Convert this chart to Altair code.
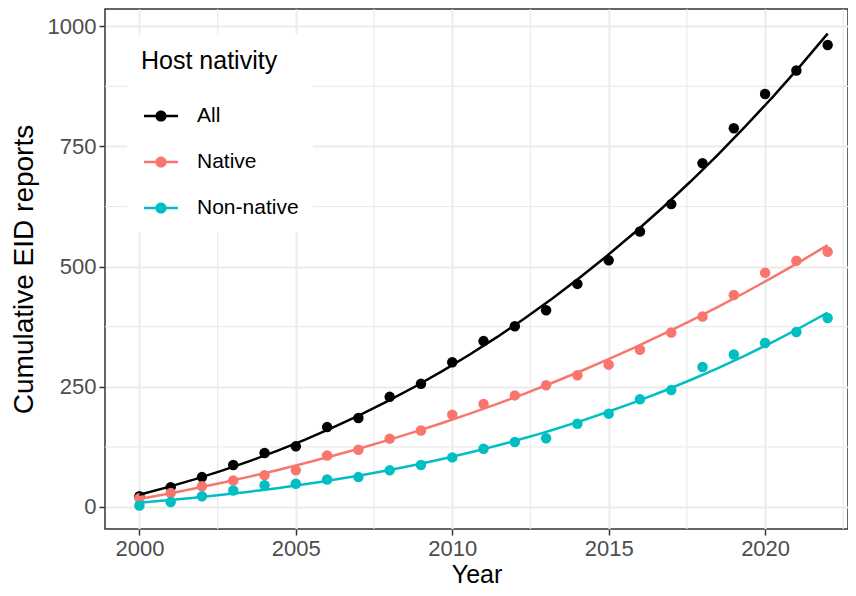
import altair as alt
import pandas as pd

years = list(range(2000, 2023))
all_vals = [22, 41, 62, 87, 112, 126, 166, 185, 229, 256, 301, 345, 376, 409, 464, 513, 573, 630, 715, 788, 859, 908, 961]
native_vals = [18, 29, 43, 55, 66, 76, 107, 119, 142, 159, 192, 214, 232, 253, 274, 296, 327, 363, 396, 441, 487, 512, 531]
nonnative_vals = [3, 10, 22, 34, 45, 48, 57, 62, 76, 87, 103, 121, 135, 143, 173, 194, 224, 243, 291, 317, 341, 364, 393]
series_names = ["All", "Native", "Non-native"]
series_colors = ["#000000", "#F8766D", "#00BFC4"]
x_major = [2000, 2005, 2010, 2015, 2020]
x_minor = [2002.5, 2007.5, 2012.5, 2017.5, 2022.5]
y_major = [0, 250, 500, 750, 1000]
y_minor = [125, 375, 625, 875]

rows = []
for name, vals in zip(series_names, [all_vals, native_vals, nonnative_vals]):
    for yr, v in zip(years, vals):
        rows.append({"year": yr, "value": v, "series": name})
df = pd.DataFrame(rows)

FONT = "Liberation Sans"
xs = alt.Scale(domain=[1998.9, 2022.65], nice=False, zero=False)
ys = alt.Scale(domain=[-46, 1036], nice=False, zero=False)
cs = alt.Scale(domain=series_names, range=series_colors)

x_axis = alt.Axis(values=x_major, format="d", title="Year", grid=True)
y_axis = alt.Axis(values=y_major, format="d", title="Cumulative EID reports", grid=True)

# legend glyph: a thin bar (the line) plus a dot, filled with the series colour
glyph = ("M-1,-0.08L1,-0.08L1,0.08L-1,0.08Z"
         "M-0.33,0A0.33,0.33,0,1,1,0.33,0A0.33,0.33,0,1,1,-0.33,0Z")

legend = alt.Legend(
    title="Host nativity",
    orient="none",
    legendX=22,
    legendY=26,
    fillColor="white",
    padding=14,
    titleFontSize=25,
    titleFont=FONT,
    titleFontWeight="normal",
    titleColor="black",
    titlePadding=25,
    labelFontSize=21,
    labelFont=FONT,
    labelColor="black",
    labelOffset=19,
    symbolType=glyph,
    symbolSize=1156,
    symbolStrokeWidth=0,
    symbolOpacity=1,
    symbolOffset=3,
)

minor_x = alt.Chart(pd.DataFrame({"v": x_minor})).mark_rule(color="#EBEBEB", strokeWidth=1.2).encode(
    x=alt.X("v:Q", scale=xs, axis=x_axis)
)
minor_y = alt.Chart(pd.DataFrame({"v": y_minor})).mark_rule(color="#EBEBEB", strokeWidth=1.2).encode(
    y=alt.Y("v:Q", scale=ys, axis=y_axis)
)

points = alt.Chart(df).mark_point(filled=True, size=110, opacity=1).encode(
    x=alt.X("year:Q", scale=xs, axis=x_axis),
    y=alt.Y("value:Q", scale=ys, axis=y_axis),
    color=alt.Color("series:N", scale=cs, legend=legend),
)

lines = alt.Chart(df).transform_calculate(
    t="datum.year - 2000"
).transform_regression(
    "t", "value", groupby=["series"], method="poly", order=3, extent=[0, 22]
).transform_calculate(
    year="datum.t + 2000"
).mark_line(strokeWidth=2.5).encode(
    x=alt.X("year:Q", scale=xs, axis=x_axis),
    y=alt.Y("value:Q", scale=ys, axis=y_axis),
    color=alt.Color("series:N", scale=cs, legend=None),
)

chart = alt.layer(minor_x, minor_y, points, lines).properties(
    width=743,
    height=520,
    autosize=alt.AutoSizeParams(type="none"),
    padding={"left": 97, "top": 1, "right": 0, "bottom": 59},
).configure_view(
    stroke="#333333", strokeWidth=1.5
).configure_axis(
    domain=False,
    gridColor="#EBEBEB",
    gridWidth=2,
    tickColor="#333333",
    tickWidth=1.5,
    tickSize=6,
    labelColor="#4D4D4D",
    labelFont=FONT,
    labelFontSize=22,
    labelPadding=3,
    titleFont=FONT,
    titleFontWeight="normal",
    titleColor="black",
).configure_axisX(
    titleFontSize=25,
    titlePadding=3,
).configure_axisY(
    titleFontSize=28,
    titlePadding=9,
).configure_legend(
    rowPadding=19,
)

chart.save("out.html", embed_options={"renderer": "svg", "actions": False})
